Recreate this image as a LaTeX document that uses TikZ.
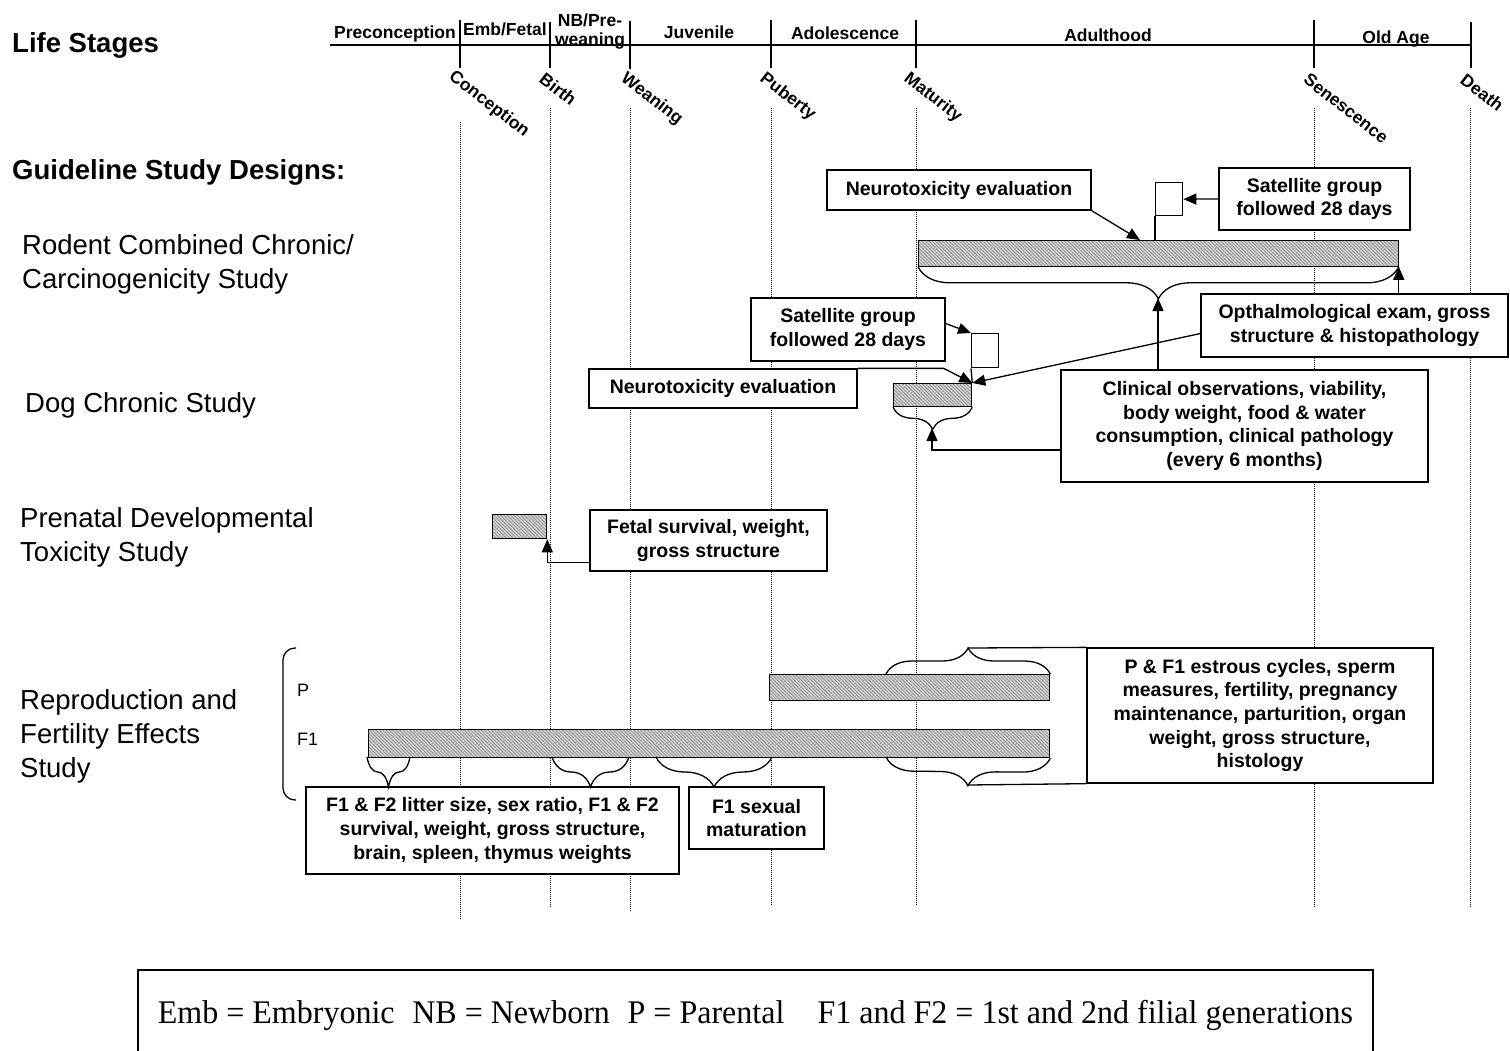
\documentclass[tikz,border=0pt]{standalone}
\usepackage{fontspec}
\setmainfont{Liberation Sans}
\newfontfamily\legendserif{Liberation Serif}
\usepackage{graphicx}
\usepackage{tikz}
\usetikzlibrary{arrows.meta}
\usetikzlibrary{decorations.pathreplacing}
\usetikzlibrary{patterns.meta}

\newcommand{\boxfont}{\fontsize{19.5}{23.7}\selectfont\bfseries}
\newcommand{\stagefont}{\fontsize{17.5}{20}\selectfont\bfseries}
\newcommand{\studyfont}{\fontsize{27.5}{34}\selectfont}
\newcommand{\headfont}{\fontsize{27.5}{34}\selectfont\bfseries}
\newcommand{\genfont}{\fontsize{18}{20}\selectfont}

\begin{document}
\begin{tikzpicture}[x=1pt, y=-1pt,
        box/.style={draw, fill=white, line width=1.3pt, align=center, font=\boxfont, inner sep=0pt},
        bar/.style={draw, line width=1.3pt, preaction={fill=gray!35},
            pattern={Lines[angle=-45, distance=2.4pt, line width=0.8pt]}, pattern color=gray!85,
            inner sep=0pt, anchor=north west},
        tick/.style={line width=1.6pt},
        guide/.style={densely dotted, line width=1pt},
        stage/.style={font=\stagefont, inner sep=0pt, anchor=base},
        point/.style={font=\stagefont, inner sep=0pt, anchor=north west, rotate=-38},
        study/.style={font=\studyfont, align=left, anchor=west, inner sep=0pt},
        arr/.style={-{Triangle[length=13pt, width=11pt]}, line width=1.3pt},
        curly/.style={decorate, decoration={brace, amplitude=#1}, line width=1.3pt},
        curly down/.style={decorate, decoration={brace, mirror, amplitude=#1}, line width=1.3pt}]
    \useasboundingbox (0, 0) rectangle (1510, 1050);

    \draw[guide] (460, 122) -- (460, 920);
    \draw[guide] (550, 108) -- (550, 908);
    \draw[guide] (630, 108) -- (630, 912);
    \draw[guide] (771, 108) -- (771, 905);
    \draw[guide] (916, 108) -- (916, 905);
    \draw[guide] (1314, 108) -- (1314, 908);
    \draw[guide] (1470, 108) -- (1470, 908);

    \coordinate (lifestart) at (330, 45);
    \coordinate (lifeend) at (1472, 45);
    \draw[tick] (lifestart) -- (lifeend);
    \draw[tick] (460, 20) -- (460, 68);
    \draw[tick] (550, 22) -- (550, 68);
    \draw[tick] (630, 21) -- (630, 69);
    \draw[tick] (771, 20) -- (771, 68);
    \draw[tick] (916, 20) -- (916, 68);
    \draw[tick] (1314, 20) -- (1314, 68);
    \draw[tick] (1471, 22) -- (1471, 68);

    \node[stage] (preconception) at (395, 38) {Preconception};
    \node[stage] (embfetal) at (505, 35) {Emb/Fetal};
    \node[stage] (newborn) at (590, 26) {NB/Pre-};
    \node[stage] (preweaning) at (590, 45) {weaning};
    \node[stage] (juvenile) at (699, 38) {Juvenile};
    \node[stage] (adolescence) at (845, 39) {Adolescence};
    \node[stage] (adulthood) at (1108, 41) {Adulthood};
    \node[stage] (oldage) at (1396, 43) {Old Age};

    \node[point] (conception) at (456, 68) {Conception};
    \node[point] (birth) at (546, 71) {Birth};
    \node[point] (weaning) at (628, 70) {Weaning};
    \node[point] (puberty) at (767, 70) {Puberty};
    \node[point] (maturity) at (911, 70) {Maturity};
    \node[point] (senescence) at (1310, 72) {Senescence};
    \node[point] (death) at (1467, 72) {Death};

    \node[font=\headfont, anchor=west, inner sep=0pt] (lifestages) at (12, 45) {Life Stages};
    \node[font=\headfont, anchor=west, inner sep=0pt] (designs) at (12, 172) {Guideline Study Designs:};
    \node[study] (rodent) at (22, 264) {Rodent Combined Chronic/\\Carcinogenicity Study};
    \node[study] (dog) at (25, 405) {Dog Chronic Study};
    \node[study] (prenatal) at (20, 537) {Prenatal Developmental\\Toxicity Study};
    \node[study] (repro) at (20, 736) {Reproduction and\\Fertility Effects\\Study};
    \node[font=\genfont, anchor=west, inner sep=0pt] (parental) at (297, 690) {P};
    \node[font=\genfont, anchor=west, inner sep=0pt] (filial) at (297, 739) {F1};
    \draw[line width=1.3pt, rounded corners=12pt] (296, 648) -- (283, 648) -- (283, 800) -- (296, 800);

    \node[bar, minimum width=480pt, minimum height=26pt] (rbar) at (918, 240) {};
    \node[bar, minimum width=78pt, minimum height=23pt] (dbar) at (893, 383) {};
    \node[bar, minimum width=54pt, minimum height=24pt] (nbar) at (492, 514) {};
    \node[bar, minimum width=280pt, minimum height=26pt] (pbar) at (769, 674) {};
    \node[bar, minimum width=681pt, minimum height=28pt] (fbar) at (368, 729) {};

    \node[box, minimum width=264pt, minimum height=40pt] (rneuro) at (959, 190) {Neurotoxicity evaluation};
    \node[box, minimum width=191pt, minimum height=62pt] (rsat) at (1314.5, 199) {Satellite group\\followed 28 days};
    \node[box, anchor=north west, minimum width=27pt, minimum height=33pt] (rsmall) at (1155, 182) {};
    \node[box, minimum width=307pt, minimum height=63pt] (ophth) at (1354.5, 325.5) {Opthalmological exam, gross\\structure \& histopathology};
    \node[box, minimum width=367pt, minimum height=112pt] (clin) at (1244.5, 426) {Clinical observations, viability,\\body weight, food \& water\\consumption, clinical pathology\\(every 6 months)};
    \node[box, minimum width=194pt, minimum height=63pt] (dsat) at (848, 329.5) {Satellite group\\followed 28 days};
    \node[box, minimum width=268pt, minimum height=39pt] (dneuro) at (723, 388.5) {Neurotoxicity evaluation};
    \node[box, anchor=north west, minimum width=27pt, minimum height=34pt] (dsmall) at (971, 333) {};
    \node[box, minimum width=237pt, minimum height=61pt] (fetal) at (708.5, 540.5) {Fetal survival, weight,\\gross structure};
    \node[box, minimum width=346pt, minimum height=135pt] (pfone) at (1260, 715.5) {P \& F1 estrous cycles, sperm\\measures, fertility, pregnancy\\maintenance, parturition, organ\\weight, gross structure,\\histology};
    \node[box, minimum width=373pt, minimum height=87pt] (litter) at (492.5, 830.5) {F1 \& F2 litter size, sex ratio, F1 \& F2\\survival, weight, gross structure,\\brain, spleen, thymus weights};
    \node[box, minimum width=135pt, minimum height=62pt] (sexmat) at (756.5, 818) {F1 sexual\\maturation};

    \coordinate (rneurotip) at (1140, 240);
    \coordinate (rtip) at (1158, 298);
    \coordinate (dtip) at (932, 428);
    \coordinate (ptip) at (967.5, 648);
    \coordinate (ftip) at (967.5, 785);

    \draw[curly down=32pt] (rbar.south west) -- (rbar.south east);
    \draw[curly down=22pt] (dbar.south west) -- (dbar.south east);
    \draw[curly=26pt] (886, 674) -- (pbar.north east);
    \draw[curly down=28pt] (886, 757) -- (fbar.south east);
    \draw[curly down=30pt] (367, 757) -- (410, 757);
    \draw[curly down=30pt] (552, 757) -- (629, 757);
    \draw[curly down=30pt] (656, 757) -- (772, 757);

    \draw[arr] (rneuro.south east) -- (rneurotip);
    \draw[line width=1.3pt] (rsmall.south west) -- (rsmall.south west |- rbar.north);
    \draw[arr] (rsat.west) -- (rsmall.east);
    \draw[arr] (ophth.north -| rbar.south east) -- (rbar.south east);
    \draw[arr] (clin.north -| rtip) -- (rtip);
    \draw[arr] ([yshift=-8pt]ophth.west) -- (dbar.north east);
    \draw[arr] ([yshift=6pt]dsat.east) -- (dsmall.north west);
    \draw[line width=1.3pt] (dsmall.south west) -- (dbar.north east);
    \draw[arr] (dneuro.north east) -- ++(86, 0) -- (dbar.north east);
    \draw[arr] ([yshift=-24pt]clin.west) -| (dtip);
    \draw[arr] ([yshift=-22pt]fetal.west) -| (nbar.south east);
    \draw[line width=1.3pt] (ptip) -- (pfone.north west);
    \draw[line width=1.3pt] (ftip) -- (pfone.south west);

    \node[minimum width=1235pt, minimum height=90pt, inner sep=0pt] (abbrev) at (755.5, 1015)
        {\legendserif\fontsize{33}{36}\selectfont\scalebox{0.97}[1]{Emb = Embryonic\hspace{10pt} NB = Newborn\hspace{10pt} P = Parental\hspace{26pt} F1 and F2 = 1st and 2nd filial generations}};
    \draw[line width=2.2pt] (abbrev.south west) |- (abbrev.north east) -- (abbrev.south east);
\end{tikzpicture}
\end{document}
